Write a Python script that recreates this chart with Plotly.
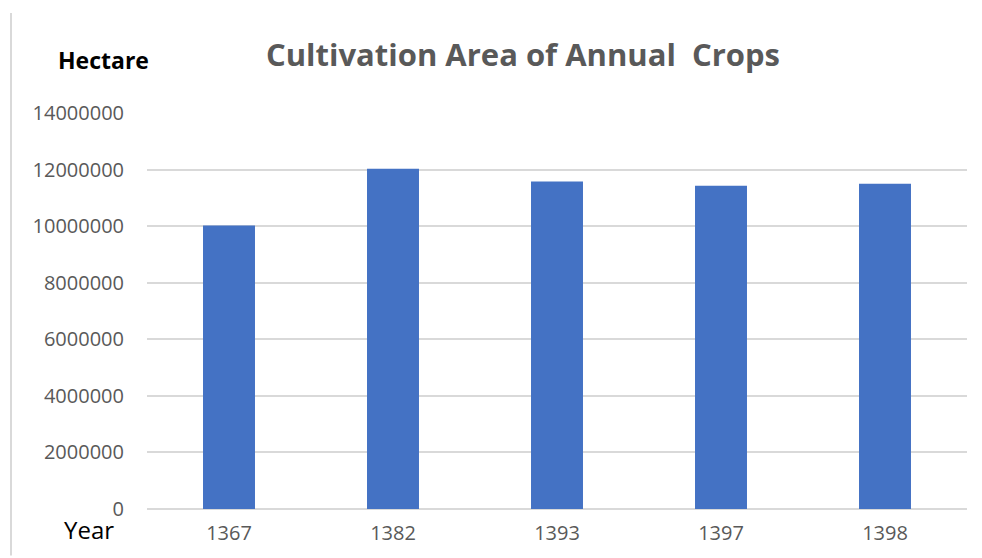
import plotly.graph_objects as go

years = ["1367", "1382", "1393", "1397", "1398"]
area_hectare = [10020000, 12030000, 11575000, 11430000, 11500000]
y_ticks = [0, 2000000, 4000000, 6000000, 8000000, 10000000, 12000000, 14000000]
y_tick_labels = [str(v) for v in y_ticks]

title_text = "Cultivation Area of Annual\u00a0 Crops"
y_unit = "Hectare"
x_unit = "Year"

# the page body has an 8px margin; figure is sized to fit the window
OFF = 8
W, H = 982 - OFF, 558 - OFF

fig = go.Figure()
fig.add_trace(go.Bar(
    x=years, y=area_hectare,
    marker=dict(color="#4472C4", line=dict(width=0)),
    hoverinfo="x+y",
))

fig.update_layout(
    width=W, height=H,
    margin=dict(l=147 - OFF, r=15, t=113 - OFF, b=45),
    paper_bgcolor="white", plot_bgcolor="white",
    bargap=0.683,
    showlegend=False,
    title=dict(
        text=title_text,
        x=(523 - OFF) / W, xanchor="center", xref="container",
        y=1 - (55 - OFF) / H, yanchor="middle", yref="container",
        font=dict(family="Open Sans", size=31, color="#595959", weight="bold"),
    ),
    xaxis=dict(
        type="category",
        showgrid=False, showline=False, zeroline=False,
        ticks="", ticklabelstandoff=10,
        tickfont=dict(family="Open Sans", size=20, color="#595959"),
    ),
    yaxis=dict(
        range=[0, 14000000],
        tickmode="array", tickvals=y_ticks, ticktext=y_tick_labels,
        showgrid=True, gridcolor="#D9D9D9", gridwidth=1.5,
        zeroline=True, zerolinecolor="#D9D9D9", zerolinewidth=1.5,
        showline=False, ticks="", ticklabelstandoff=22,
        tickfont=dict(family="Open Sans", size=20, color="#595959"),
    ),
    annotations=[
        dict(text="<b>" + y_unit + "</b>", xref="paper", yref="paper",
             x=(103 - 147) / 820, y=(513 - 59) / 400,
             xanchor="center", yanchor="middle", showarrow=False,
             font=dict(family="Open Sans", size=23, color="black")),
        dict(text=x_unit, xref="paper", yref="paper",
             x=(89 - 147) / 820, y=(513 - 534) / 400,
             xanchor="center", yanchor="middle", showarrow=False,
             font=dict(family="Open Sans", size=24, color="black")),
    ],
    shapes=[
        dict(type="line", xref="paper", yref="paper",
             x0=(11 - 147) / 820, x1=(11 - 147) / 820,
             y0=(513 - 12) / 400, y1=(513 - 560) / 400,
             line=dict(color="#D9D9D9", width=2)),
    ],
)

fig.write_html("out.html")
